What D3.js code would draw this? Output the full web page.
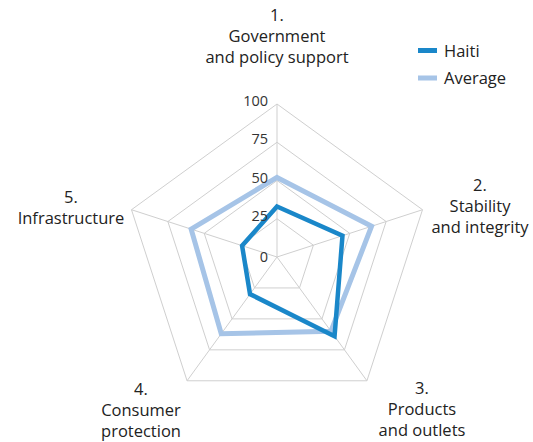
<!DOCTYPE html>
<html>
<head>
<meta charset="utf-8">
<script src="https://cdn.jsdelivr.net/npm/d3@7"></script>
<style>
  html, body { margin: 0; padding: 0; background: #fff; }
  svg text { font-family: "Open Sans", "Noto Sans", sans-serif; fill: #222; }
</style>
</head>
<body>
<svg id="chart" width="533" height="442"></svg>
<script>
// Pillar names (one entry per axis, each split into lines)
const categories = [
  ["1.", "Government", "and policy support"],
  ["2.", "Stability", "and integrity"],
  ["3.", "Products", "and outlets"],
  ["4.", "Consumer", "protection"],
  ["5.", "Infrastructure"]
];
const haiti   = [33, 45, 64, 30, 24];
const average = [52, 65, 60, 62, 59];
const ticks   = [0, 25, 50, 75, 100];
const seriesNames = ["Haiti", "Average"];

// Layout
const cx = 277, cy = 257, R = 153;
const colors = { Haiti: "#1a87c9", Average: "#a6c4e7" };
// label blocks: centre x and baseline of each line
const labelLayout = [
  { x: 277, y: [21, 42, 63] },
  { x: 480, y: [191, 212, 233] },
  { x: 422, y: [394, 415, 436] },
  { x: 141, y: [395, 416, 437] },
  { x: 71,  y: [203, 224] }
];

const svg = d3.select("#chart");
const r = d3.scaleLinear().domain([0, 100]).range([0, R]);
const angle = i => -Math.PI / 2 + i * 2 * Math.PI / categories.length;
const pt = (i, v) => [cx + r(v) * Math.cos(angle(i)), cy + r(v) * Math.sin(angle(i))];

// Grid rings
const g = svg.append("g");
ticks.filter(t => t > 0).forEach(t => {
  g.append("path")
    .attr("d", d3.line()(categories.map((c, i) => pt(i, t))) + "Z")
    .attr("fill", "none")
    .attr("stroke", "#cfcfcf")
    .attr("stroke-width", 1);
});
// Spokes
categories.forEach((c, i) => {
  const [x, y] = pt(i, 100);
  g.append("line")
    .attr("x1", cx).attr("y1", cy).attr("x2", x).attr("y2", y)
    .attr("stroke", "#cfcfcf").attr("stroke-width", 1);
});

// Series
[["Average", average], ["Haiti", haiti]].forEach(([name, vals]) => {
  svg.append("path")
    .attr("d", d3.line()(vals.map((v, i) => pt(i, v))) + "Z")
    .attr("fill", "none")
    .attr("stroke", colors[name])
    .attr("stroke-width", name === "Haiti" ? 4.5 : 5)
    .attr("stroke-linejoin", "miter");
});

// Tick labels on the top spoke
ticks.forEach(t => {
  svg.append("text")
    .attr("x", cx - 9)
    .attr("y", cy - r(t) + (t === 0 ? 5 : 2))
    .attr("text-anchor", "end")
    .attr("font-size", 14.5)
    .style("fill", "#333")
    .text(t);
});

// Axis labels
categories.forEach((lines, i) => {
  const lay = labelLayout[i];
  const t = svg.append("text").attr("text-anchor", "middle").attr("font-size", 16.5);
  lines.forEach((s, k) => {
    t.append("tspan").attr("x", lay.x).attr("y", lay.y[k]).text(s);
  });
});

// Legend
const lg = svg.append("g");
seriesNames.forEach((name, k) => {
  const y = 50.5 + k * 27.5;
  lg.append("rect")
    .attr("x", 418).attr("y", y - 2.5).attr("width", 19).attr("height", 5)
    .attr("fill", colors[name]);
  lg.append("text")
    .attr("x", 444).attr("y", y + 6)
    .attr("font-size", 16.5)
    .text(name);
});
</script>
</body>
</html>
